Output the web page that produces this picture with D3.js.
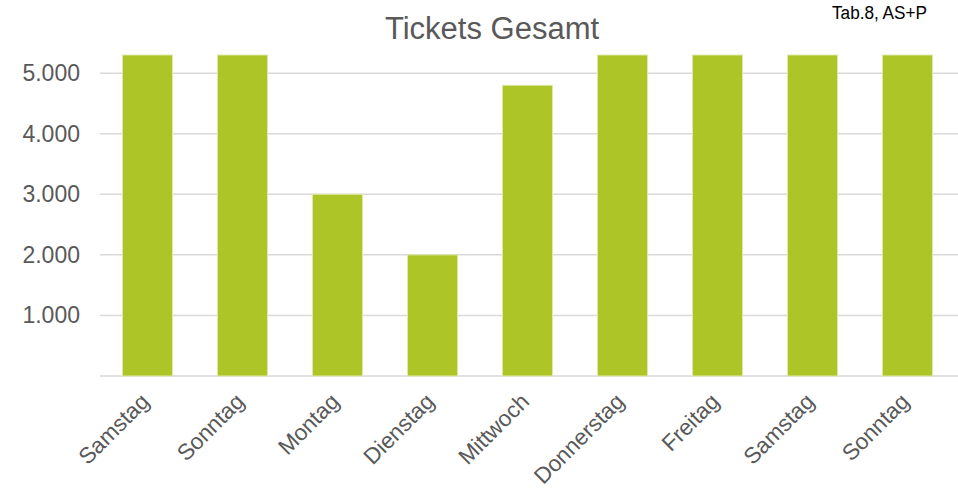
<!DOCTYPE html>
<html><head><meta charset="utf-8">
<script src="https://cdn.jsdelivr.net/npm/d3@7"></script>
<style>body{margin:0;background:#fff}svg{display:block}</style>
</head><body><svg id="c" width="958" height="492"></svg>
<script>
const categories = ["Samstag","Sonntag","Montag","Dienstag","Mittwoch","Donnerstag","Freitag","Samstag","Sonntag"];
const values = [5300,5300,3000,2000,4800,5300,5300,5300,5300];
const yTicks = [1000,2000,3000,4000,5000];
const title = "Tickets Gesamt";
const note = "Tab.8, AS+P";

(function () {
const svg = d3.select("#c");
const W = 958, H = 492;
const pLeft = 100, pRight = 955, pTop = 55, pBottom = 376;
const x = d3.scaleBand().domain(d3.range(categories.length)).range([pLeft, pRight]).paddingInner(0.474).paddingOuter(0.237);
const y = d3.scaleLinear().domain([0, 5300]).range([pBottom, pTop]).clamp(true);
const fmt = v => d3.format(",")(v).replace(/,/g, ".");

// gridlines
svg.append("g").selectAll("line").data([0].concat(yTicks)).join("line")
  .attr("x1", pLeft).attr("x2", W).attr("y1", d => y(d)).attr("y2", d => y(d))
  .attr("stroke", "#d9d9d9").attr("stroke-width", 1.5);

// y labels
const yAxis = d3.axisLeft(y).tickValues(yTicks).tickFormat(fmt).tickSize(0).tickPadding(0);
const ga = svg.append("g").attr("transform", `translate(80,0)`).call(yAxis);
ga.select(".domain").remove();
ga.selectAll("text").attr("font-family", "Liberation Sans, Arial, sans-serif").attr("font-size", 23).attr("fill", "#595959");

// bars
svg.append("g").selectAll("rect").data(values).join("rect")
  .attr("x", (d, i) => x(i)).attr("width", x.bandwidth())
  .attr("y", d => y(d)).attr("height", d => y(0) - y(d))
  .attr("fill", "#aec528").attr("stroke", "#dfe9a6").attr("stroke-width", 1);

// x labels
svg.append("g").selectAll("text").data(categories).join("text")
  .attr("transform", (d, i) => `translate(${x(i) + x.bandwidth() / 2 + 3},403) rotate(-45)`)
  .attr("text-anchor", "end")
  .attr("font-family", "Liberation Sans, Arial, sans-serif").attr("font-size", 22.5).attr("fill", "#595959")
  .text(d => d);

// title
svg.append("text").attr("x", 492).attr("y", 39).attr("text-anchor", "middle")
  .attr("font-family", "Liberation Sans, Arial, sans-serif").attr("font-size", 31).attr("fill", "#595959")
  .text(title);
svg.append("text").attr("x", 832).attr("y", 19)
  .attr("textLength", 95).attr("lengthAdjust", "spacingAndGlyphs")
  .attr("font-family", "Liberation Sans, Arial, sans-serif").attr("font-size", 18).attr("fill", "#000")
  .text(note);
})();
</script></body></html>
